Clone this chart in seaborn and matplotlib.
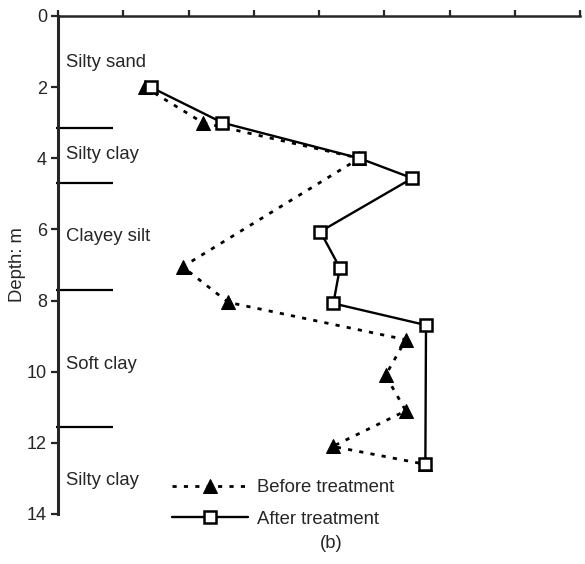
import matplotlib
matplotlib.use("Agg")
import matplotlib.pyplot as plt
import seaborn as sns
import pandas as pd

# Measured profiles (horizontal position on the unlabelled top scale, depth in m)
before_x = [1.33, 2.22, 4.62, 1.91, 2.61, 5.33, 5.02, 5.33, 4.21, 5.62]
before_depth = [2.0, 3.0, 4.0, 7.05, 8.05, 9.1, 10.1, 11.1, 12.1, 12.6]
after_x = [1.42, 2.52, 4.62, 5.43, 4.02, 4.32, 4.22, 5.64, 5.63]
after_depth = [2.0, 3.0, 4.0, 4.56, 6.06, 7.08, 8.08, 8.69, 12.6]

# Soil stratigraphy
layer_names = ["Silty sand", "Silty clay", "Clayey silt", "Soft clay", "Silty clay"]
layer_label_depth = [1.31, 3.9, 6.2, 9.8, 13.05]
layer_boundaries = [3.16, 4.69, 7.70, 11.56]

depth_ticks = [0, 2, 4, 6, 8, 10, 12, 14]
top_ticks = [0, 1, 2, 3, 4, 5, 6, 7, 8]

sns.set_style("ticks")
plt.rcParams["font.family"] = ["Liberation Sans", "DejaVu Sans"]

fig = plt.figure(figsize=(5.85, 5.64), dpi=100)
ax = fig.add_axes([58 / 585, 1 - 514 / 564, (580 - 58) / 585, (514 - 16) / 564])

df_before = pd.DataFrame({"x": before_x, "depth": before_depth})
df_after = pd.DataFrame({"x": after_x, "depth": after_depth})

sns.lineplot(data=df_before, x="x", y="depth", ax=ax, sort=False, estimator=None,
             orient="y", color="black", linewidth=2.0, dashes=False,
             marker="^", markersize=10, markerfacecolor="black",
             markeredgecolor="black", label="Before treatment", zorder=3)
sns.lineplot(data=df_after, x="x", y="depth", ax=ax, sort=False, estimator=None,
             orient="y", color="black", linewidth=1.7,
             marker="s", markersize=9, markerfacecolor="white",
             markeredgecolor="black", markeredgewidth=1.8,
             label="After treatment", zorder=4)

# dotted style for the "before" curve
ax.lines[0].set_linestyle((0, (1.5, 2.6)))

ax.set_xlim(0, 8)
ax.set_ylim(14, 0)

# layer boundaries and names
ax.hlines(layer_boundaries, -0.03, 0.84, colors="black", linewidth=1.6, clip_on=False)
for name, d in zip(layer_names, layer_label_depth):
    ax.text(0.12, d, name, fontsize=13.3, va="center", ha="left")

# axes styling: top and left spines only
for side in ["right", "bottom"]:
    ax.spines[side].set_visible(False)
ax.spines["left"].set_linewidth(2.2)
ax.spines["top"].set_linewidth(1.8)
ax.xaxis.tick_top()
ax.set_xticks(top_ticks)
ax.set_xticklabels([])
ax.tick_params(axis="x", direction="out", length=4, width=1.6, top=True, bottom=False)
ax.set_yticks(depth_ticks)
ax.tick_params(axis="y", direction="out", length=5, width=1.6, labelsize=13, pad=3)
ax.set_xlabel("")
ax.set_ylabel("Depth: m", fontsize=13.3)
ax.yaxis.set_label_coords(-0.061, 0.5)

handles, labels = ax.get_legend_handles_labels()
ax.legend(handles, labels, loc="center left", bbox_to_anchor=(172 / 585, 1 - 503.5 / 564),
          bbox_transform=fig.transFigure, frameon=False, fontsize=13.3,
          handlelength=4.1, handletextpad=0.5, labelspacing=0.78,
          borderpad=0, borderaxespad=0, numpoints=1)

fig.text(331.7 / 585, 1 - 543 / 564, "(b)", fontsize=13.3, ha="center", va="center")

fig.savefig("out.png", dpi=100)
